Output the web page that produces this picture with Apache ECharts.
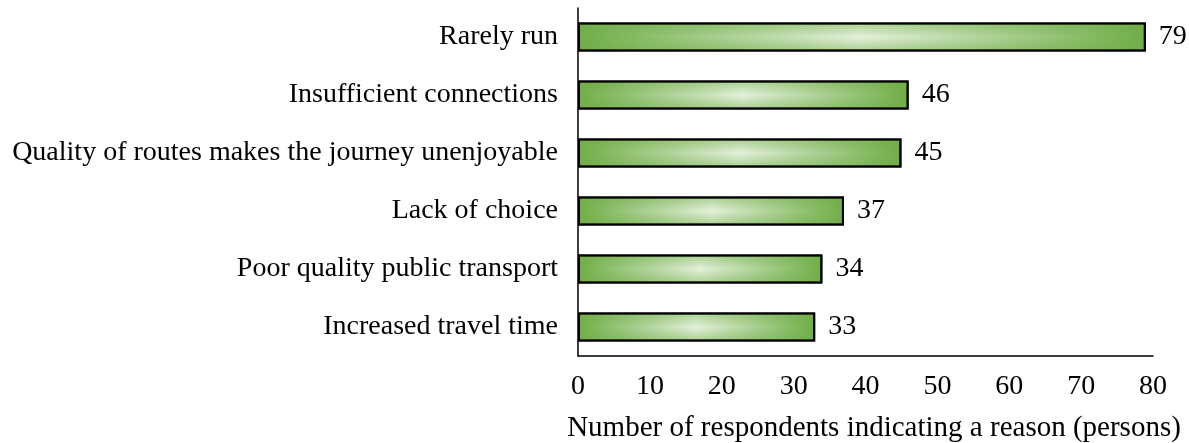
<!DOCTYPE html>
<html>
<head>
<meta charset="utf-8">
<script src="https://cdn.jsdelivr.net/npm/echarts@6/dist/echarts.min.js"></script>
<style>
  html, body { margin: 0; padding: 0; background: #fff; }
  #chart { width: 1189px; height: 443px; }
</style>
</head>
<body>
<div id="chart"></div>
<script>
// Reasons given for not using public transport, by number of respondents
const reasons = [
  'Rarely run',
  'Insufficient connections',
  'Quality of routes makes the journey unenjoyable',
  'Lack of choice',
  'Poor quality public transport',
  'Increased travel time'
];
const respondents = [79, 46, 45, 37, 34, 33];
const axisTitle = 'Number of respondents indicating a reason (persons)';

const FONT = '"Liberation Serif", "Times New Roman", serif';
const FS = 28;
const GREEN = '#70ad47';

const chart = echarts.init(document.getElementById('chart'), null, { renderer: 'canvas' });

chart.setOption({
  animation: false,
  backgroundColor: '#ffffff',
  grid: {
    left: 578, right: 36, top: 8, bottom: 87,
    containLabel: false,
    outerBoundsMode: 'none'
  },
  xAxis: {
    type: 'value',
    min: 0,
    max: 80,
    interval: 10,
    axisLine: { show: true, lineStyle: { color: '#000', width: 1.5 } },
    axisTick: { show: false },
    splitLine: { show: false },
    axisLabel: { color: '#000', fontFamily: FONT, fontSize: FS, margin: 17 },
    name: axisTitle,
    nameLocation: 'middle',
    nameGap: 58,
    nameTextStyle: { color: '#000', fontFamily: FONT, fontSize: 29, padding: [0, 0, 0, 17] }
  },
  yAxis: {
    type: 'category',
    data: reasons,
    inverse: true,
    axisLine: { show: true, lineStyle: { color: '#000', width: 1.5 } },
    axisTick: { show: false },
    axisLabel: { color: '#000', fontFamily: FONT, fontSize: FS, margin: 20 }
  },
  series: [
    {
      // base fill: dark at both ends, light towards the middle
      type: 'bar',
      data: respondents,
      barWidth: 29,
      itemStyle: {
        color: new echarts.graphic.LinearGradient(0, 0, 1, 0, [
          { offset: 0, color: GREEN },
          { offset: 0.5, color: '#e4f1dc' },
          { offset: 1, color: GREEN }
        ]),
        borderColor: '#000',
        borderWidth: 2
      },
      z: 2
    },
    {
      // overlay: darkens the top and bottom edges of each bar
      type: 'bar',
      data: respondents,
      barWidth: 29,
      barGap: '-100%',
      itemStyle: {
        color: new echarts.graphic.LinearGradient(0, 0, 0, 1, [
          { offset: 0, color: 'rgba(112,173,71,0.5)' },
          { offset: 0.5, color: 'rgba(112,173,71,0)' },
          { offset: 1, color: 'rgba(112,173,71,0.5)' }
        ]),
        borderColor: '#000',
        borderWidth: 2
      },
      label: {
        show: true,
        position: 'right',
        distance: 13,
        color: '#000',
        fontFamily: FONT,
        fontSize: FS
      },
      z: 3
    }
  ]
});
</script>
</body>
</html>
